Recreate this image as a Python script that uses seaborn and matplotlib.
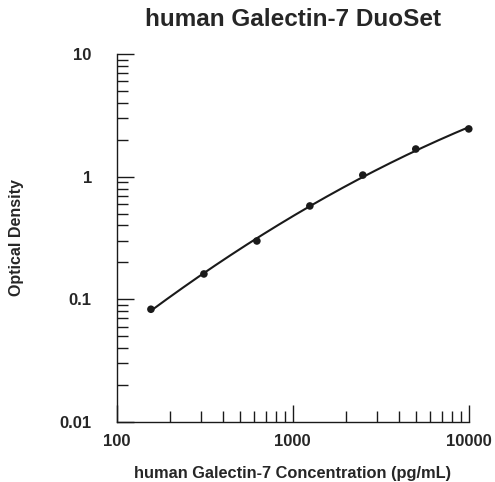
import numpy as np
import pandas as pd
import matplotlib
matplotlib.use('Agg')
import matplotlib.pyplot as plt
import seaborn as sns

concentration = [156.25, 312.5, 625, 1250, 2500, 5000, 10000]
optical_density = [0.083, 0.161, 0.299, 0.577, 1.03, 1.68, 2.45]

df = pd.DataFrame({'conc': concentration, 'od': optical_density})

# smooth standard curve: quadratic fit in log-log space
coef = np.polyfit(np.log10(df['conc']), np.log10(df['od']), 2)
xs = np.logspace(np.log10(df['conc'].min()), np.log10(df['conc'].max()), 200)
fit = pd.DataFrame({'conc': xs, 'od': 10 ** np.polyval(coef, np.log10(xs))})

sns.set_style('ticks')
plt.rcParams['font.family'] = ['Liberation Sans', 'DejaVu Sans']
plt.rcParams['font.weight'] = 'bold'

fig = plt.figure(figsize=(4.95, 4.82), dpi=100)
ax = fig.add_axes([0.236, 0.1245, 0.711, 0.7635])

sns.lineplot(data=fit, x='conc', y='od', ax=ax, color='#1a1a1a', linewidth=1.5)
sns.scatterplot(data=df, x='conc', y='od', ax=ax, color='#1a1a1a', s=30,
                edgecolor='none', zorder=3, clip_on=False)

ax.set_xscale('log')
ax.set_yscale('log')
ax.set_xlim(100, 10000)
ax.set_ylim(0.01, 10)
ax.set_xticks([100, 1000, 10000])
ax.set_xticklabels(['100', '1000', '10000'])
ax.set_yticks([0.01, 0.1, 1, 10])
ax.set_yticklabels(['0.01', '0.1', '1', '10'])

for s in ['top', 'right']:
    ax.spines[s].set_visible(False)
for s in ['left', 'bottom']:
    ax.spines[s].set_color('#1a1a1a')
    ax.spines[s].set_linewidth(1.0)

ax.tick_params(which='major', direction='in', length=12, width=1,
               color='#1a1a1a', labelsize=12)
ax.tick_params(which='minor', direction='in', length=8, width=1, color='#1a1a1a')
ax.tick_params(axis='x', which='major', pad=9)
ax.tick_params(axis='y', which='major', pad=18)

ax.set_title('human Galectin-7 DuoSet', fontsize=17.5, fontweight='bold', pad=20)
ax.set_xlabel('human Galectin-7 Concentration (pg/mL)', fontsize=11.8,
              fontweight='bold', labelpad=12)
ax.set_ylabel('Optical Density', fontsize=11.5, fontweight='bold', labelpad=26)

fig.savefig('out.png', dpi=100)
